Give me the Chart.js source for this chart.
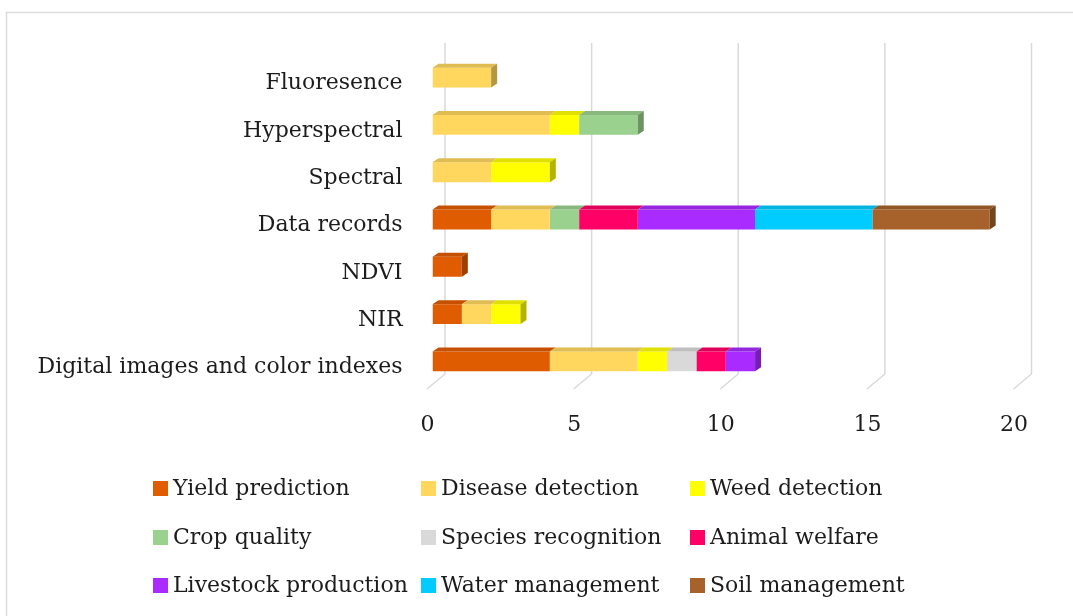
<!DOCTYPE html>
<html>
<head>
<meta charset="utf-8">
<script src="https://cdn.jsdelivr.net/npm/chart.js@4.4.1/dist/chart.umd.min.js"></script>
<style>
  html, body { margin: 0; padding: 0; background: #fff; }
  #wrap { width: 1073px; height: 616px; position: relative; }
</style>
</head>
<body>
<div id="wrap"><canvas id="usageChart"></canvas></div>
<script>
const categories = ['Fluoresence', 'Hyperspectral', 'Spectral', 'Data records', 'NDVI', 'NIR', 'Digital images and color indexes'];

const yieldPrediction     = [0, 0, 0, 2, 1, 1, 4];
const diseaseDetection    = [2, 4, 2, 2, 0, 1, 3];
const weedDetection       = [0, 1, 2, 0, 0, 1, 1];
const cropQuality         = [0, 2, 0, 1, 0, 0, 0];
const speciesRecognition  = [0, 0, 0, 0, 0, 0, 1];
const animalWelfare       = [0, 0, 0, 2, 0, 0, 1];
const livestockProduction = [0, 0, 0, 4, 0, 0, 1];
const waterManagement     = [0, 0, 0, 4, 0, 0, 0];
const soilManagement      = [0, 0, 0, 4, 0, 0, 0];

const xTicks = [0, 5, 10, 15, 20];

const series = [
    ['Yield prediction', yieldPrediction, '#E05C00'],
    ['Disease detection', diseaseDetection, '#FFD75E'],
    ['Weed detection', weedDetection, '#FFFF00'],
    ['Crop quality', cropQuality, '#9BD18E'],
    ['Species recognition', speciesRecognition, '#D9D9D9'],
    ['Animal welfare', animalWelfare, '#FF0066'],
    ['Livestock production', livestockProduction, '#A92BFF'],
    ['Water management', waterManagement, '#00CCFF'],
    ['Soil management', soilManagement, '#A6622A']
];

const serif = '"DejaVu Serif", "Liberation Serif", serif';
const textColor = '#1c1c1c';
const gridColor = '#d9d9d9';

function shade(hex, f) {
    const n = parseInt(hex.slice(1), 16);
    const r = Math.round(((n >> 16) & 255) * f);
    const g = Math.round(((n >> 8) & 255) * f);
    const b = Math.round((n & 255) * f);
    return `rgb(${r},${g},${b})`;
}

// fake excel 3d: back gridlines, bar tops/sides, boxed legend
const excel3d = {
    id: 'excel3d',
    beforeDraw(chart) {
        const ctx = chart.ctx;
        ctx.save();
        ctx.strokeStyle = '#dcdcdc';
        ctx.lineWidth = 1.5;
        ctx.strokeRect(6.5, 12.5, chart.width + 20, chart.height + 20);
        ctx.restore();
    },
    beforeDatasetsDraw(chart) {
        const ctx = chart.ctx;
        const area = chart.chartArea;
        const x = chart.scales.x;
        ctx.save();
        ctx.strokeStyle = gridColor;
        ctx.lineWidth = 1.5;
        xTicks.forEach(v => {
            const xb = x.getPixelForValue(v) + 12.5;
            ctx.beginPath();
            ctx.moveTo(xb, area.top - 11);
            ctx.lineTo(xb, area.bottom - 11);
            ctx.lineTo(xb - 18, area.bottom + 4);
            ctx.stroke();
        });
        ctx.restore();
    },
    afterDatasetsDraw(chart) {
        const ctx = chart.ctx;
        const dx = 6, dy = 4;
        ctx.save();
        const lastSeg = {};
        chart.data.datasets.forEach((ds, di) => {
            const meta = chart.getDatasetMeta(di);
            meta.data.forEach((bar, i) => {
                if (!ds.data[i]) return;
                const p = bar.getProps(['x', 'y', 'base', 'height'], true);
                const top = p.y - p.height / 2;
                ctx.fillStyle = shade(ds.backgroundColor, 0.88);
                ctx.beginPath();
                ctx.moveTo(p.base, top);
                ctx.lineTo(p.x, top);
                ctx.lineTo(p.x + dx, top - dy);
                ctx.lineTo(p.base + dx, top - dy);
                ctx.closePath();
                ctx.fill();
                lastSeg[i] = { p, color: ds.backgroundColor };
            });
        });
        Object.values(lastSeg).forEach(({ p, color }) => {
            const top = p.y - p.height / 2;
            const bottom = p.y + p.height / 2;
            ctx.fillStyle = shade(color, 0.7);
            ctx.beginPath();
            ctx.moveTo(p.x, top);
            ctx.lineTo(p.x + dx, top - dy);
            ctx.lineTo(p.x + dx, bottom - dy);
            ctx.lineTo(p.x, bottom);
            ctx.closePath();
            ctx.fill();
        });
        ctx.restore();
    },
    afterDraw(chart) {
        const ctx = chart.ctx;
        const cols = [153, 421, 690];
        const rows = [489, 538, 586];
        ctx.save();
        ctx.font = '22px ' + serif;
        ctx.textBaseline = 'middle';
        ctx.fillStyle = textColor;
        chart.data.datasets.forEach((ds, i) => {
            const cx = cols[i % 3];
            const cy = rows[Math.floor(i / 3)];
            ctx.fillStyle = ds.backgroundColor;
            ctx.fillRect(cx, cy - 8, 15, 15);
            ctx.fillStyle = textColor;
            ctx.fillText(ds.label, cx + 20, cy);
        });
        ctx.restore();
    }
};

new Chart(document.getElementById('usageChart'), {
    type: 'bar',
    data: {
        labels: categories,
        datasets: series.map(([label, data, color]) => ({
            label,
            data,
            backgroundColor: color,
            borderWidth: 0,
            barPercentage: 0.42,
            categoryPercentage: 1
        }))
    },
    options: {
        indexAxis: 'y',
        responsive: true,
        maintainAspectRatio: false,
        animation: false,
        layout: { padding: { top: 54, right: 54, bottom: 171, left: 0 } },
        plugins: {
            legend: { display: false },
            tooltip: { enabled: false }
        },
        scales: {
            x: {
                stacked: true,
                min: 0,
                max: 20,
                afterBuildTicks: s => { s.ticks = xTicks.map(v => ({ value: v })); },
                afterFit: s => { s.height = 60; },
                grid: { display: false },
                border: { display: false },
                ticks: {
                    padding: 19,
                    labelOffset: -5,
                    color: textColor,
                    font: { family: serif, size: 22 }
                }
            },
            y: {
                stacked: true,
                afterFit: s => { s.width = 432.5; },
                grid: { display: false },
                border: { display: false },
                ticks: {
                    padding: 22,
                    labelOffset: 6,
                    color: textColor,
                    font: { family: serif, size: 22 }
                }
            }
        }
    },
    plugins: [excel3d]
});
</script>
</body>
</html>
